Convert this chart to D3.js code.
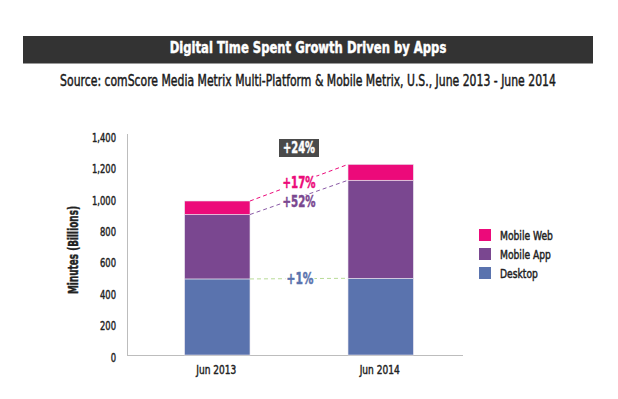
<!DOCTYPE html>
<html>
<head>
<meta charset="utf-8">
<script src="https://cdn.jsdelivr.net/npm/d3@7"></script>
<style>
  body { margin: 0; background: #fff; }
  svg text { font-family: "Liberation Sans Narrow", "DejaVu Sans Condensed", "Arial Narrow", sans-serif; font-stretch: condensed; }
  .heavy { stroke-width: 0.45px; paint-order: fill; }
</style>
</head>
<body>
<div id="chart"></div>
<script>
// data (billions of minutes)
var periods = ["Jun 2013", "Jun 2014"];
var seriesNames = ["Desktop", "Mobile App", "Mobile Web"];
var desktop = [484, 488];
var mobileApp = [410, 624];
var mobileWeb = [86, 101];
var yTicks = [0, 200, 400, 600, 800, 1000, 1200, 1400];
var growthLabels = ["+1%", "+52%", "+17%"];
var totalGrowth = "+24%";

var colors = {"Desktop": "#5a73ae", "Mobile App": "#7a4790", "Mobile Web": "#ec0a7a"};
var lineColors = {"Desktop": "#b9dc98", "Mobile App": "#8a5aa6", "Mobile Web": "#ec0a7a"};

var W = 618, H = 399;
var svg = d3.select("#chart").append("svg")
    .attr("width", W)
    .attr("height", H);

// squeeze a text horizontally around its x anchor (font here is wider than the original)
function squeeze(node, f) {
    var ax = +node.getAttribute("x") || 0;
    node.setAttribute("transform", "translate(" + (ax * (1 - f)) + ",0) scale(" + f + ",1)");
}
function fitTo(sel, target) {
    sel.each(function() {
        squeeze(this, Math.min(1, target / this.getComputedTextLength()));
    });
}

// title bar
svg.append("rect")
    .attr("x", 23).attr("y", 36)
    .attr("width", 570).attr("height", 27)
    .attr("fill", "#333333");
svg.append("line")
    .attr("x1", 23).attr("x2", 593)
    .attr("y1", 63.5).attr("y2", 63.5)
    .attr("stroke", "#999").attr("stroke-width", 1);
var title = svg.append("text")
    .attr("x", 308).attr("y", 53)
    .attr("text-anchor", "middle")
    .attr("fill", "#fff")
    .attr("stroke", "#fff").attr("class", "heavy")
    .style("font-size", "16px").style("font-weight", "bold")
    .text("Digital Time Spent Growth Driven by Apps");
fitTo(title, 277);

var subtitle = svg.append("text")
    .attr("x", 308).attr("y", 86)
    .attr("text-anchor", "middle")
    .attr("fill", "#1a1a1a")
    .attr("stroke", "#1a1a1a").attr("class", "heavy")
    .style("font-size", "15px")
    .text("Source: comScore Media Metrix Multi-Platform & Mobile Metrix, U.S., June 2013 - June 2014");
fitTo(subtitle, 496);

// scales
var x = d3.scaleBand()
    .domain(periods)
    .range([134, 464])
    .paddingInner(0.6)
    .paddingOuter(0.31);

var y = d3.scaleLinear()
    .domain([0, 1400])
    .range([355, 135]);

// stacked data
var table = periods.map(function(p, i) {
    return {period: p, "Desktop": desktop[i], "Mobile App": mobileApp[i], "Mobile Web": mobileWeb[i]};
});
var stacked = d3.stack().keys(seriesNames)(table);

// axes lines
svg.append("line")
    .attr("x1", 127.5).attr("x2", 127.5)
    .attr("y1", y(1400) - 1).attr("y2", y(0))
    .attr("stroke", "#bdbdbd").attr("stroke-width", 1);
svg.append("line")
    .attr("x1", 127).attr("x2", 463)
    .attr("y1", y(0) + 0.5).attr("y2", y(0) + 0.5)
    .attr("stroke", "#bdbdbd").attr("stroke-width", 1);

// y tick labels
var yAxis = d3.axisLeft(y).tickValues(yTicks).tickSize(0).tickPadding(0)
    .tickFormat(d3.format(","));
var gy = svg.append("g")
    .attr("transform", "translate(116,2)")
    .call(yAxis);
gy.select(".domain").remove();
var yLabels = gy.selectAll("text")
    .attr("fill", "#222")
    .attr("stroke", "#222").attr("class", "heavy")
    .style("font-size", "13px")
    .style("font-family", null);
var fy = 24 / yLabels.filter(function(d) { return d === 1400; }).node().getComputedTextLength();
yLabels.each(function() { squeeze(this, Math.min(1, fy)); });

// x tick labels
var xAxis = d3.axisBottom(x).tickSize(0).tickPadding(0);
var gx = svg.append("g")
    .attr("transform", "translate(-1,365)")
    .call(xAxis);
gx.select(".domain").remove();
var xLabels = gx.selectAll("text")
    .attr("fill", "#222")
    .attr("stroke", "#222").attr("class", "heavy")
    .style("font-size", "13px")
    .style("font-family", null);
fitTo(xLabels, 40);

// y axis title
var yTitle = svg.append("text")
    .attr("transform", "translate(78,250) rotate(-90)")
    .attr("text-anchor", "middle")
    .attr("fill", "#222")
    .attr("stroke", "#222").attr("class", "heavy")
    .style("font-size", "14px").style("font-weight", "bold")
    .text("Minutes (Billions)");
var fyt = Math.min(1, 88 / yTitle.node().getComputedTextLength());
yTitle.attr("transform", "translate(78,250) rotate(-90) scale(" + fyt + ",1)");

// bars
svg.selectAll(".layer")
    .data(stacked)
    .join("g")
    .attr("class", "layer")
    .attr("fill", function(d) { return colors[d.key]; })
    .selectAll("rect")
    .data(function(d) { return d; })
    .join("rect")
    .attr("x", function(d) { return x(d.data.period); })
    .attr("y", function(d) { return y(d[1]); })
    .attr("width", x.bandwidth())
    .attr("height", function(d) { return y(d[0]) - y(d[1]); })
    .attr("stroke", "#e8e4ee")
    .attr("stroke-width", 0.6);

// growth connectors (top of each segment, bar 1 right edge -> bar 2 left edge)
var x1 = x(periods[0]) + x.bandwidth(), x2 = x(periods[1]);
var labelPos = {"Desktop": [300, 279], "Mobile App": [299, 202], "Mobile Web": [299, 183]};
var labelWidth = {"Desktop": 27, "Mobile App": 33, "Mobile Web": 33};
stacked.forEach(function(s) {
    svg.append("line")
        .attr("x1", x1).attr("y1", y(s[0][1]))
        .attr("x2", x2).attr("y2", y(s[1][1]))
        .attr("stroke", lineColors[s.key])
        .attr("stroke-width", 1)
        .attr("stroke-dasharray", "4,3");
});
stacked.forEach(function(s, i) {
    var p = labelPos[s.key];
    svg.append("rect")
        .attr("x", p[0] - labelWidth[s.key] / 2 - 1).attr("y", p[1] - 7)
        .attr("width", labelWidth[s.key] + 2).attr("height", 14)
        .attr("fill", "#fff");
    var t = svg.append("text")
        .attr("x", p[0]).attr("y", p[1] + 5)
        .attr("text-anchor", "middle")
        .attr("fill", colors[s.key])
        .attr("stroke", colors[s.key]).attr("class", "heavy")
        .style("font-size", "15px").style("font-weight", "bold")
        .text(growthLabels[i]);
    fitTo(t, labelWidth[s.key]);
});

// total growth badge
svg.append("rect")
    .attr("x", 279).attr("y", 139)
    .attr("width", 40).attr("height", 18)
    .attr("fill", "#4a4a4a");
var badge = svg.append("text")
    .attr("x", 299).attr("y", 153)
    .attr("text-anchor", "middle")
    .attr("fill", "#fff")
    .attr("stroke", "#fff").attr("class", "heavy")
    .style("font-size", "15px").style("font-weight", "bold")
    .text(totalGrowth);
fitTo(badge, 32);

// legend
var legendOrder = ["Mobile Web", "Mobile App", "Desktop"];
var lg = svg.selectAll(".legend")
    .data(legendOrder)
    .join("g")
    .attr("class", "legend")
    .attr("transform", function(d, i) { return "translate(479," + (229 + i * 19) + ")"; });
lg.append("rect")
    .attr("width", 12).attr("height", 12)
    .attr("fill", function(d) { return colors[d]; });
var lgText = lg.append("text")
    .attr("x", 21).attr("y", 11)
    .attr("fill", "#222")
    .attr("stroke", "#222").attr("class", "heavy")
    .style("font-size", "13px")
    .text(function(d) { return d; });
var fl = Math.min(1, 53 / lgText.filter(function(d) { return d === "Mobile Web"; }).node().getComputedTextLength());
lgText.each(function() { squeeze(this, fl); });
</script>
</body>
</html>
